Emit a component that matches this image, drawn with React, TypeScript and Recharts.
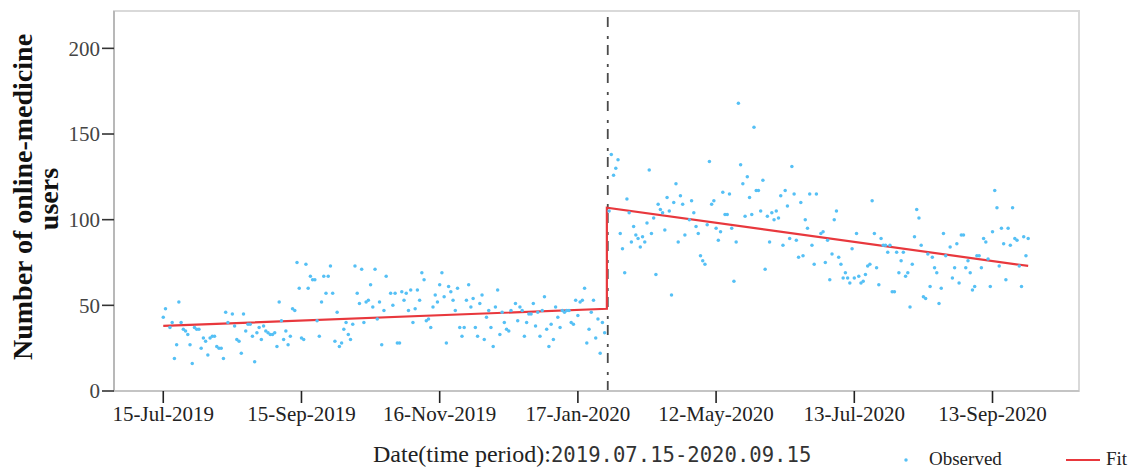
import React from 'react';
import { ComposedChart, Scatter, Line, XAxis, YAxis, ReferenceLine, ReferenceArea } from 'recharts';

// ---- axis ticks ----
const xTickDays = [0, 62, 124, 186, 248, 310, 372];
const xTickLabels = ['15-Jul-2019', '15-Sep-2019', '16-Nov-2019', '17-Jan-2020', '12-May-2020', '13-Jul-2020', '13-Sep-2020'];
const yTicks = [0, 50, 100, 150, 200];

// ---- observed daily users (runs of consecutive days, start day of each run) ----
const runStarts = [0, 3, 31, 100, 102, 158, 200, 236, 295, 353];
const run0 = [43, 48];
const run1 = [37, 40, 19, 27, 52, 40, 36, 35, 33, 27, 16, 37, 36, 36, 25, 31, 29, 21, 31, 32, 32, 26, 25, 25, 19, 46, 40];
const run2 = [45, 38, 30, 29, 22, 45, 35, 39, 39, 32, 17, 34, 37, 30, 38, 35, 34, 33, 33, 34, 26, 52, 41, 30, 35, 27, 32, 48, 47, 75, 60, 31, 30, 74, 60, 67, 65, 65, 41, 32, 52, 67, 57, 67, 73, 57, 29, 46, 26, 28, 36, 40, 33, 30, 39, 73, 57, 51, 71, 40, 52, 53, 62, 49, 71, 42, 52, 27, 47];
const run3 = [67];
const run4 = [57, 50, 57, 28, 28, 58, 53, 57, 47, 59, 40, 48, 59, 53, 69, 65, 41, 42, 37, 49, 56, 52, 62, 69, 55, 28, 61, 58, 53, 47, 60, 37, 32, 37, 53, 62, 49, 54, 37, 32, 51, 56, 30, 43, 47, 37, 26, 49, 59, 33, 46, 40, 36, 35, 47];
const run5 = [51, 41, 49, 47, 32, 40, 45, 45, 51, 38, 46, 32, 47, 55, 36, 26, 39, 30, 49, 43, 37, 47, 46, 47, 47, 40, 39, 53, 44, 52, 53, 60, 28, 36, 46, 53, 31, 42, 22, 40, 34];
const run6 = [105, 138, 126, 130, 135, 92, 83, 69, 112, 104, 87, 96, 91, 89, 84, 90, 87, 98, 129, 92, 101, 68, 109, 106, 104, 94, 113, 105, 56, 110, 121, 87, 114, 109, 91];
const run7 = [100, 111, 104, 96, 92, 79, 76, 74, 97, 134, 109, 111, 95, 88, 93, 116, 103, 103, 115, 95, 64, 87, 168, 132, 121, 102, 125, 113, 103, 154, 117, 117, 105, 123, 71, 102, 87, 104, 100, 105, 101, 114, 85, 117, 108, 89, 131, 115, 88, 78, 110, 79, 100, 95, 115, 85, 74, 115];
const run8 = [92, 93, 75, 88, 65, 80, 100, 105, 78, 74, 66, 69, 66, 63, 83, 66, 92, 67, 63, 64, 68, 73, 74, 111, 92, 72, 62, 89, 85, 85, 81, 85, 58, 58, 81, 69, 76, 81, 67, 69, 49, 74, 90, 106, 101, 85, 55, 54, 80, 61, 78, 72, 69, 51, 60, 92, 79];
const run9 = [84, 66, 72, 86, 63, 91, 91, 72, 76, 69, 59, 61, 79, 79, 72, 89, 87, 77, 61, 93, 117, 107, 73, 95, 86, 65, 95, 85, 107, 89, 88, 73, 61, 90, 79, 89];
const runs = [run0, run1, run2, run3, run4, run5, run6, run7, run8, run9];

// ---- segmented regression fit ----
const fitDays = [0, 199, 199, 388];
const fitValues = [38, 48, 107, 73];
const interventionDay = 199.4;

const X_MIN = -22.1;
const X_MAX = 410.8;
const Y_MAX = 221.8;

const obsData = runs.flatMap((vals, r) => vals.map((v, i) => ({ day: runStarts[r] + i, users: v })));
const fitData = fitDays.map((d, i) => ({ day: d, fit: fitValues[i] }));

const DOT = '#55c0f5';
const RED = '#e8383d';
const SERIF = '"Liberation Serif", "Times New Roman", serif';

const ObsDot = (props: any) => <circle cx={props.cx} cy={props.cy} r={1.75} fill={DOT} />;

const XTick = (props: any) => {
  const idx = xTickDays.indexOf(props.payload.value);
  return (
    <text x={props.x} y={props.y + 16} textAnchor="middle" fontFamily={SERIF} fontSize={21} fill="#222">
      {xTickLabels[idx]}
    </text>
  );
};

const YTick = (props: any) => (
  <text x={props.x} y={props.y} dy="0.35em" textAnchor="end" fontFamily={SERIF} fontSize={21} fill="#444">
    {props.payload.value}
  </text>
);

export default function App() {
  return (
    <div style={{ position: 'absolute', left: 0, top: 0, width: 1136, height: 470, background: '#fff' }}>
      <ComposedChart width={1136} height={470} margin={{ top: 11, right: 57, bottom: 40, left: 0 }}>
        <ReferenceArea x1={X_MIN} x2={X_MAX} y1={0} y2={Y_MAX} fill="none" stroke="#d9d9d9" strokeWidth={2} ifOverflow="visible" />
        <XAxis
          dataKey="day"
          type="number"
          domain={[X_MIN, X_MAX]}
          ticks={xTickDays}
          interval={0}
          allowDataOverflow
          height={39}
          tickSize={12}
          tickLine={{ stroke: '#222', strokeWidth: 1.6 }}
          axisLine={{ stroke: '#c4c4c4', strokeWidth: 2 }}
          tick={(p: any) => <XTick {...p} />}
        />
        <YAxis
          type="number"
          domain={[0, Y_MAX]}
          ticks={yTicks}
          interval={0}
          allowDataOverflow
          width={114}
          tickSize={12}
          tickLine={{ stroke: '#333', strokeWidth: 1.6 }}
          axisLine={{ stroke: '#b8b8b8', strokeWidth: 2 }}
          tick={(p: any) => <YTick {...p} />}
        />
        <ReferenceLine x={interventionDay} stroke="#4a4a4a" strokeWidth={1.8} strokeDasharray="10 6 3 9" />
        <Scatter data={obsData} dataKey="users" isAnimationActive={false} shape={(p: any) => <ObsDot {...p} />} />
        <Line data={fitData} dataKey="fit" type="linear" stroke={RED} strokeWidth={2.2} dot={false} activeDot={false} isAnimationActive={false} />
        <g>
          <text x={32} y={197} transform="rotate(-90 32 197)" textAnchor="middle" fontFamily={SERIF} fontWeight="bold" fontSize={28} fill="#111">
            Number of online-medicine
          </text>
          <text x={58} y={199} transform="rotate(-90 58 199)" textAnchor="middle" fontFamily={SERIF} fontWeight="bold" fontSize={28} fill="#111">
            users
          </text>
          <text x={373} y={462} fontFamily={SERIF} fontSize={24} fill="#222">
            Date(time period):
            <tspan fontFamily='"DejaVu Sans Mono", "Liberation Mono", monospace' fontSize={20.6} fill="#333">2019.07.15-2020.09.15</tspan>
          </text>
          <circle cx={906} cy={460} r={1.75} fill={DOT} />
          <text x={929} y={465} fontFamily={SERIF} fontSize={19} fill="#222">Observed</text>
          <line x1={1066} y1={460} x2={1100} y2={460} stroke={RED} strokeWidth={2} />
          <text x={1106} y={465} fontFamily={SERIF} fontSize={19} fill="#222">Fit</text>
        </g>
      </ComposedChart>
    </div>
  );
}
